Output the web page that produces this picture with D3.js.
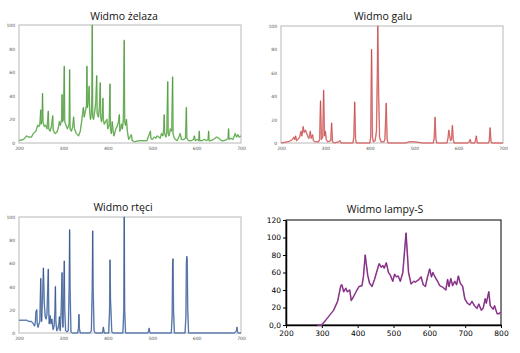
<!DOCTYPE html>
<html>
<head>
<meta charset="utf-8">
<script src="https://cdn.jsdelivr.net/npm/d3@7"></script>
<style>
  body { margin: 0; background: #fff; }
  svg { display: block; }
</style>
</head>
<body>
<div id="chart"></div>
<script>
// spectra: [wavelength nm, relative intensity]
const ironSpectrum = [
  [200,2],[210,3],[217,6],[222,5],[228,5],[232,8],[238,10],[242,15],[245,14],[247,16],[249,28],[250,16],
  [252,20],[253,42],[254,18],[257,14],[260,15],[263,12],[266,27],[267,12],[270,10],[273,14],[276,23],[277,11],
  [281,8],[285,9],[288,12],[291,18],[293,15],[296,20],[297,41],[298,18],[300,20],[302,65],[303,18],[306,15],
  [309,12],[313,16],[314,62],[315,12],[318,10],[321,14],[323,22],[325,12],[329,8],[332,7],[334,6],[338,10],
  [341,18],[343,24],[345,30],[347,22],[350,28],[352,32],[353,65],[354,30],[356,35],[358,48],[359,28],[361,20],
  [363,25],[364,40],[365,100],[366,22],[368,20],[371,28],[373,35],[375,57],[376,25],[379,22],[381,30],[383,51],
  [384,22],[386,18],[388,25],[389,38],[390,20],[392,16],[395,18],[398,20],[400,12],[403,15],[405,50],[406,12],
  [408,8],[410,18],[412,10],[414,6],[418,12],[421,14],[424,18],[426,24],[427,10],[429,12],[431,16],[433,12],
  [435,20],[437,87],[438,18],[440,15],[442,20],[444,10],[447,3],[450,5],[453,7],[455,2],[460,1],[470,2],
  [480,2],[488,2],[492,6],[494,8],[496,10],[497,4],[500,3],[505,5],[508,4],[511,6],[515,5],[518,4],
  [521,8],[524,6],[526,12],[527,24],[528,8],[531,5],[533,10],[535,52],[536,8],[538,6],[541,12],[544,10],
  [546,56],[547,8],[549,5],[552,3],[556,2],[560,5],[563,8],[566,3],[571,3],[575,4],[577,30],[578,4],
  [582,2],[588,2],[593,3],[595,6],[597,2],[602,3],[605,2],[606,10],[607,2],[612,2],[618,3],[622,2],
  [626,3],[627,10],[628,2],[632,2],[638,3],[645,5],[650,4],[656,2],[662,2],[668,3],[671,4],[672,12],
  [673,3],[677,4],[682,3],[687,8],[690,5],[693,7],[696,5],[700,6]
];

const galliumSpectrum = [
  [200,0],[215,1],[222,2],[226,3],[229,5],[231,3],[233,6],[235,2],[238,3],[242,5],[245,10],[247,6],
  [250,14],[252,9],[255,11],[258,8],[261,5],[263,4],[266,10],[268,4],[271,7],[273,2],[277,1],[285,1],
  [287,3],[289,36],[291,3],[294,5],[296,45],[298,6],[300,10],[302,3],[305,1],[312,2],[314,17],[316,1],
  [320,0],[330,1],[333,2],[335,0],[362,0],[364,5],[366,35],[368,3],[370,0],[400,0],[402,5],[404,80],
  [406,5],[408,1],[412,2],[415,10],[417,60],[418,100],[420,40],[422,5],[425,1],[432,1],[434,3],[437,34],
  [439,3],[441,0],[480,0],[490,1],[500,1],[520,0],[543,0],[545,4],[547,22],[549,3],[551,0],[574,0],
  [576,4],[578,11],[580,6],[582,2],[584,3],[586,15],[588,3],[590,0],[620,0],[624,1],[626,3],[628,0],
  [636,0],[638,2],[640,6],[642,0],[667,0],[669,2],[671,13],[673,1],[675,0],[700,0]
];

const mercurySpectrum = [
  [200,11],[210,11],[217,11],[222,10],[228,10],[232,8],[235,6],[237,10],[238,18],[240,20],[241,8],[243,5],
  [245,8],[247,10],[248,30],[249,47],[250,20],[251,10],[253,30],[255,56],[257,25],[259,14],[261,12],[263,16],
  [264,30],[266,55],[267,20],[268,8],[270,15],[272,8],[274,12],[276,5],[277,3],[279,6],[281,20],[282,40],
  [283,10],[285,2],[287,3],[290,8],[291,14],[292,4],[293,2],[295,20],[297,52],[298,15],[299,5],[300,20],
  [302,62],[303,20],[305,2],[308,1],[311,2],[313,40],[314,89],[315,40],[317,1],[320,0],[332,0],[334,4],
  [335,16],[336,4],[338,0],[360,0],[363,2],[365,40],[366,88],[367,40],[369,2],[372,0],[388,0],[390,5],
  [392,0],[402,0],[404,20],[405,63],[406,30],[407,20],[409,1],[412,0],[434,0],[436,20],[437,100],[438,20],
  [440,0],[490,0],[492,2],[493,4],[495,0],[543,0],[545,15],[546,60],[547,64],[548,20],[550,0],[574,0],
  [576,15],[577,60],[578,66],[579,62],[580,20],[582,0],[685,0],[690,2],[691,5],[692,1],[694,0],[700,0]
];

const lampSpectrum = [
  [287,0],[299,0],[310,5],[333,17],[344,27],[353,45],[356,46],[361,38],[367,42],[371,38],[378,40],[382,28],
  [388,32],[398,40],[404,44],[412,45],[416,55],[421,80],[428,57],[433,48],[440,44],[447,52],[454,62],[460,70],
  [466,66],[470,68],[474,65],[480,71],[486,60],[491,57],[498,50],[503,58],[508,55],[513,56],[519,50],[526,60],
  [535,105],[542,60],[549,47],[557,50],[561,49],[571,52],[577,55],[583,46],[589,44],[595,55],[601,64],[606,55],
  [610,60],[617,54],[623,50],[629,45],[638,43],[646,40],[651,52],[655,44],[660,53],[665,45],[671,50],[676,46],
  [681,56],[686,48],[693,44],[699,30],[706,25],[713,23],[719,27],[726,22],[733,19],[738,24],[745,17],[750,19],
  [756,30],[759,25],[766,38],[770,22],[778,18],[782,22],[789,13],[795,13],[800,15]
];

// tick labels
const specXTicks = [200,300,400,500,600,700];
const specYTicks = [0,20,40,60,80,100];
const lampXTicks = [200,300,400,500,600,700,800];
const lampYTicks = [0,20,40,60,80,100,120];

const svg = d3.select("#chart")
  .append("svg")
    .attr("width", 520)
    .attr("height", 353);

// the three lab spectra share one look
function drawSpectrum(o) {
  const x = d3.scaleLinear().domain([200, 700]).range([o.left, o.right]);
  const y = d3.scaleLinear().domain([0, 100]).range([o.bottom, o.top]);
  const g = svg.append("g");

  g.append("text")
    .attr("x", o.titleX)
    .attr("y", o.titleY)
    .attr("text-anchor", "middle")
    .attr("font-family", "Open Sans, sans-serif")
    .attr("font-size", 10.5)
    .attr("fill", "#111")
    .text(o.title);

  g.append("rect")
    .attr("x", o.left)
    .attr("y", o.top)
    .attr("width", o.right - o.left)
    .attr("height", o.bottom - o.top)
    .attr("fill", "#fff")
    .attr("stroke", "#b8b8b8")
    .attr("stroke-width", 1);

  g.append("g")
    .attr("transform", `translate(0,${o.bottom})`)
    .call(d3.axisBottom(x).tickValues(specXTicks).tickSize(0).tickPadding(4))
    .call(a => a.select(".domain").remove())
    .selectAll("text")
      .attr("font-size", 4.5)
      .attr("font-family", "DejaVu Sans, sans-serif")
      .attr("fill", "#555");

  g.append("g")
    .attr("transform", `translate(${o.left},0)`)
    .call(d3.axisLeft(y).tickValues(specYTicks).tickSize(0).tickPadding(4))
    .call(a => a.select(".domain").remove())
    .selectAll("text")
      .attr("font-size", 4.5)
      .attr("font-family", "DejaVu Sans, sans-serif")
      .attr("fill", "#555");

  const line = d3.line()
    .x(d => x(d[0]))
    .y(d => y(d[1]));

  // light halo under a darker core, like the scanned plots
  g.append("path")
    .datum(o.data)
    .attr("fill", "none")
    .attr("stroke", o.light)
    .attr("stroke-width", 1.5)
    .attr("stroke-linejoin", "round")
    .attr("d", line);

  g.append("path")
    .datum(o.data)
    .attr("fill", "none")
    .attr("stroke", o.dark)
    .attr("stroke-width", 0.6)
    .attr("stroke-linejoin", "round")
    .attr("d", line);
}

drawSpectrum({title: "Widmo żelaza", titleX: 124, titleY: 20,
  left: 19, right: 241, top: 25, bottom: 143,
  data: ironSpectrum, light: "#9ad68a", dark: "#4a8a3c"});

drawSpectrum({title: "Widmo galu", titleX: 383, titleY: 20,
  left: 281, right: 503, top: 26, bottom: 143,
  data: galliumSpectrum, light: "#f0a4a4", dark: "#b84040"});

drawSpectrum({title: "Widmo rtęci", titleX: 123, titleY: 211,
  left: 19, right: 241, top: 217, bottom: 333,
  data: mercurySpectrum, light: "#95b4e0", dark: "#2a426e"});

// lamp spectrum, excel-like black frame
const lampLeft = 286, lampRight = 501, lampTop = 220, lampBottom = 325;
const xL = d3.scaleLinear().domain([200, 800]).range([lampLeft, lampRight]);
const yL = d3.scaleLinear().domain([0, 120]).range([lampBottom, lampTop]);
const gL = svg.append("g");

gL.append("text")
  .attr("x", 385)
  .attr("y", 213)
  .attr("text-anchor", "middle")
  .attr("font-family", "Open Sans, sans-serif")
  .attr("font-size", 10.5)
  .attr("fill", "#111")
  .text("Widmo lampy-S");

gL.append("rect")
  .attr("x", lampLeft)
  .attr("y", lampTop)
  .attr("width", lampRight - lampLeft)
  .attr("height", lampBottom - lampTop)
  .attr("fill", "#fff")
  .attr("stroke", "#000")
  .attr("stroke-width", 1);

gL.append("g")
  .attr("transform", `translate(0,${lampBottom})`)
  .call(d3.axisBottom(xL).tickValues(lampXTicks).tickSizeInner(3).tickSizeOuter(0).tickPadding(3))
  .call(a => a.select(".domain").attr("stroke", "#000").attr("stroke-width", 1.5))
  .selectAll("text")
    .attr("font-size", 7.5)
    .attr("font-family", "DejaVu Sans, sans-serif")
    .attr("fill", "#000");

gL.append("g")
  .attr("transform", `translate(${lampLeft},0)`)
  .call(d3.axisLeft(yL).tickValues(lampYTicks).tickSizeInner(3).tickSizeOuter(0).tickPadding(2)
    .tickFormat(d => d === 0 ? "0,0" : d))
  .call(a => a.select(".domain").attr("stroke", "#000").attr("stroke-width", 1.5))
  .selectAll("text")
    .attr("font-size", 7.5)
    .attr("font-family", "DejaVu Sans, sans-serif")
    .attr("fill", "#000");

const lampLine = d3.line().x(d => xL(d[0])).y(d => yL(d[1]));
gL.append("path")
  .datum(lampSpectrum)
  .attr("fill", "none")
  .attr("stroke", "#b05ab0")
  .attr("stroke-width", 1.6)
  .attr("stroke-linejoin", "round")
  .attr("d", lampLine);
gL.append("path")
  .datum(lampSpectrum)
  .attr("fill", "none")
  .attr("stroke", "#5a1a5a")
  .attr("stroke-width", 0.6)
  .attr("stroke-linejoin", "round")
  .attr("d", lampLine);
</script>
</body>
</html>
